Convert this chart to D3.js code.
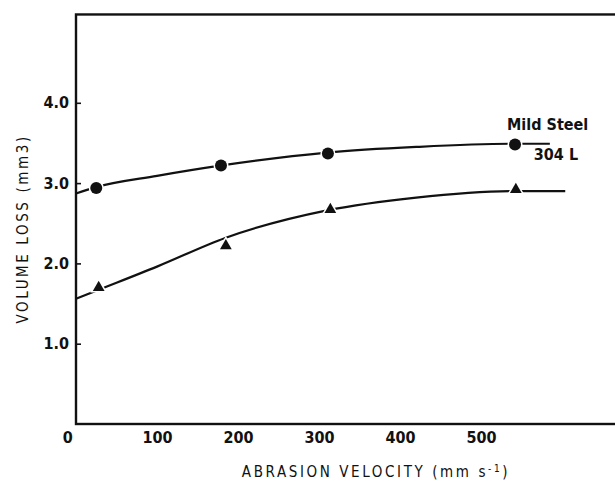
<!DOCTYPE html>
<meta charset="utf-8">
<style>
body { margin: 0; background: #fff; }
text { font-family: "DejaVu Sans Condensed", "DejaVu Sans", sans-serif; fill: #111; }
.tick text { font-size: 16px; font-weight: bold; }
.title { font-size: 15px; letter-spacing: 2.6px; }
.lbl { font-size: 16px; font-weight: bold; }
</style>
<svg width="615" height="481"></svg>
<script src="https://cdn.jsdelivr.net/npm/d3@7"></script>
<script>

// measured points (abrasion velocity, volume loss)
var velMild = [25, 179, 311, 542];
var mildSteel = [2.94, 3.22, 3.37, 3.48];
var vel304 = [28, 185, 314, 543];
var steel304L = [1.70, 2.22, 2.67, 2.92];

// hand-drawn fit curves
var mildFitX = [0, 25, 100, 180, 310, 420, 540, 585];
var mildFitY = [2.87, 2.95, 3.09, 3.22, 3.38, 3.45, 3.49, 3.49];
var fit304X = [0, 25, 100, 185, 310, 420, 540, 604];
var fit304Y = [1.56, 1.66, 1.96, 2.32, 2.66, 2.82, 2.90, 2.90];

var xTicks = [0, 100, 200, 300, 400, 500];
var yTicks = [1.0, 2.0, 3.0, 4.0];

var svg = d3.select("svg");

var x = d3.scaleLinear().domain([0, 670]).range([76, 76 + 670 * 0.81]);
var y = d3.scaleLinear().domain([0, 5.1]).range([424, 424 - 5.1 * 80.3]);

// frame
svg.append("rect")
    .attr("x", x(0)).attr("y", y(5.1))
    .attr("width", 700).attr("height", y(0) - y(5.1))
    .attr("fill", "none").attr("stroke", "#111").attr("stroke-width", 2.4);

var yAxis = svg.append("g")
    .attr("transform", "translate(" + x(0) + ",0)")
    .call(d3.axisRight(y).tickValues(yTicks).tickSize(5).tickFormat(d3.format(".1f")));
yAxis.select(".domain").remove();
yAxis.selectAll(".tick line").attr("stroke", "#111").attr("stroke-width", 1.6);
yAxis.selectAll(".tick text").attr("x", -7).attr("text-anchor", "end");

var xAxis = svg.append("g")
    .attr("transform", "translate(0," + y(0) + ")")
    .call(d3.axisBottom(x).tickValues(xTicks).tickSize(0).tickPadding(8).tickFormat(d3.format("d")));
xAxis.select(".domain").remove();
xAxis.selectAll(".tick text").filter(function(d) { return d === 0; }).attr("dx", "-0.55em");

// titles
svg.append("text").attr("class", "title")
    .attr("transform", "translate(28," + y(2.43) + ") rotate(-90)")
    .attr("text-anchor", "middle")
    .text("VOLUME LOSS (mm3)");

var xt = svg.append("text").attr("class", "title")
    .attr("x", 376).attr("y", 477).attr("text-anchor", "middle");
xt.append("tspan").text("ABRASION  VELOCITY (mm s");
xt.append("tspan").attr("dy", -5).attr("font-size", 10).text("-1");
xt.append("tspan").attr("dy", 5).text(")");

// curves
var line = d3.line()
    .x(function(d) { return x(d[0]); })
    .y(function(d) { return y(d[1]); })
    .curve(d3.curveMonotoneX);

svg.append("path")
    .datum(d3.zip(mildFitX, mildFitY))
    .attr("d", line).attr("fill", "none").attr("stroke", "#111").attr("stroke-width", 2.2);
svg.append("path")
    .datum(d3.zip(fit304X, fit304Y))
    .attr("d", line).attr("fill", "none").attr("stroke", "#111").attr("stroke-width", 2.2);

// markers
svg.selectAll(".dot")
    .data(d3.zip(velMild, mildSteel))
    .enter().append("circle")
    .attr("cx", function(d) { return x(d[0]); })
    .attr("cy", function(d) { return y(d[1]); })
    .attr("r", 6)
    .attr("fill", "#111").attr("stroke", "#fff").attr("stroke-width", 3)
    .attr("paint-order", "stroke");

var tri = d3.symbol().type(d3.symbolTriangle).size(60);
svg.selectAll(".tri")
    .data(d3.zip(vel304, steel304L))
    .enter().append("path")
    .attr("d", tri)
    .attr("transform", function(d) { return "translate(" + x(d[0]) + "," + y(d[1]) + ")"; })
    .attr("fill", "#111").attr("stroke", "#fff").attr("stroke-width", 3)
    .attr("paint-order", "stroke");

// series labels
svg.append("text").attr("class", "lbl")
    .attr("x", x(velMild[3]) - 8).attr("y", y(mildSteel[3]) - 15)
    .text("Mild Steel");
svg.append("text").attr("class", "lbl")
    .attr("x", x(vel304[3]) + 18).attr("y", y(steel304L[3]) - 30)
    .text("304 L");

</script>
